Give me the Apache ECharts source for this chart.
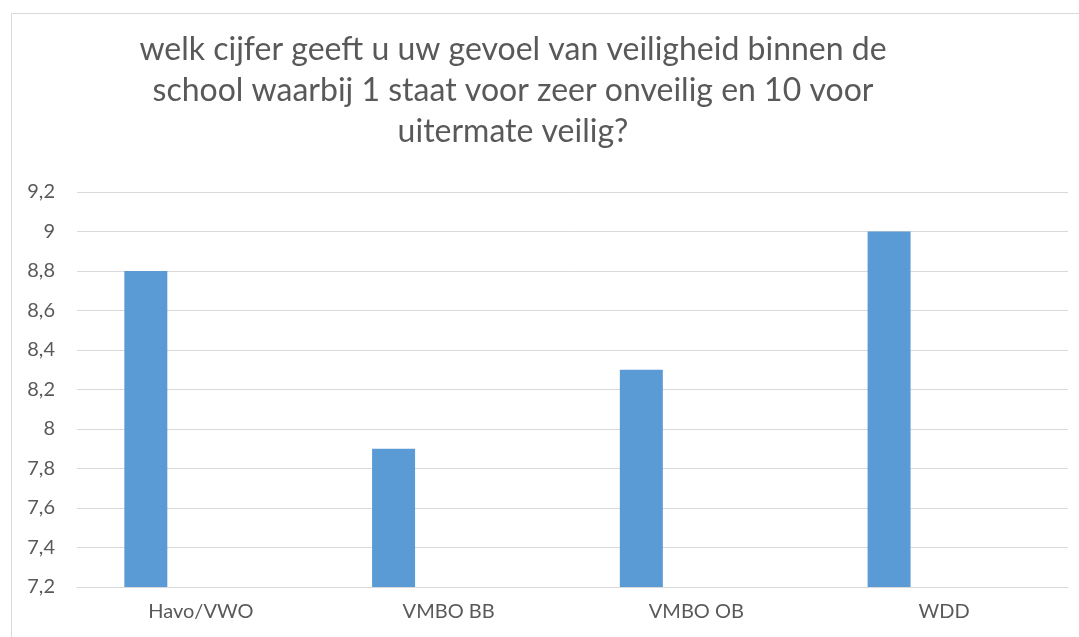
<!DOCTYPE html>
<html>
<head>
<meta charset="utf-8">
<script src="https://cdn.jsdelivr.net/npm/echarts@6/dist/echarts.min.js"></script>
<style>
  html, body { margin: 0; padding: 0; background: #ffffff; }
  #chart { width: 1079px; height: 637px; }
</style>
</head>
<body>
<div id="chart"></div>
<script>
// chart data
const categories = ['Havo/VWO', 'VMBO BB', 'VMBO OB', 'WDD'];
const scores = [8.8, 7.9, 8.3, 9.0];
const emptySeries = [null, null, null, null];
const titleText = 'welk cijfer geeft u uw gevoel van veiligheid binnen de\nschool waarbij 1 staat voor zeer onveilig en 10 voor\nuitermate veilig?';

const chart = echarts.init(document.getElementById('chart'));

const option = {
    backgroundColor: '#ffffff',
    animation: false,
    title: {
        text: titleText,
        left: 508,
        top: 24,
        textAlign: 'center',
        textStyle: {
            fontFamily: 'Lato',
            fontSize: 32,
            fontWeight: 'normal',
            color: '#595959',
            lineHeight: 41
        }
    },
    graphic: [
        {
            type: 'rect',
            shape: { x: 11.5, y: 13.5, width: 1100, height: 640 },
            style: { fill: 'none', stroke: '#d9d9d9', lineWidth: 1 },
            silent: true
        }
    ],
    grid: {
        left: 77,
        right: 11,
        top: 192,
        bottom: 50,
        containLabel: false
    },
    xAxis: {
        type: 'category',
        data: categories,
        axisLine: { show: true, lineStyle: { color: '#d9d9d9', width: 1 } },
        axisTick: { show: false },
        axisLabel: {
            color: '#595959',
            fontFamily: 'Lato',
            fontSize: 20,
            margin: 15
        }
    },
    yAxis: {
        type: 'value',
        min: 7.2,
        max: 9.2,
        interval: 0.2,
        axisLine: { show: false },
        axisTick: { show: false },
        splitLine: { lineStyle: { color: '#d9d9d9', width: 1 } },
        axisLabel: {
            color: '#595959',
            fontFamily: 'Lato',
            fontSize: 20,
            margin: 22,
            formatter: function (v) {
                return (Math.round(v * 10) / 10).toString().replace('.', ',');
            }
        }
    },
    series: [
        {
            name: 'cijfer',
            type: 'bar',
            data: scores,
            barWidth: 43,
            barGap: '156%',
            itemStyle: { color: '#5b9bd5' }
        },
        {
            name: 'leeg',
            type: 'bar',
            data: emptySeries,
            barWidth: 43,
            itemStyle: { color: '#ed7d31' }
        }
    ]
};

chart.setOption(option);
</script>
</body>
</html>
